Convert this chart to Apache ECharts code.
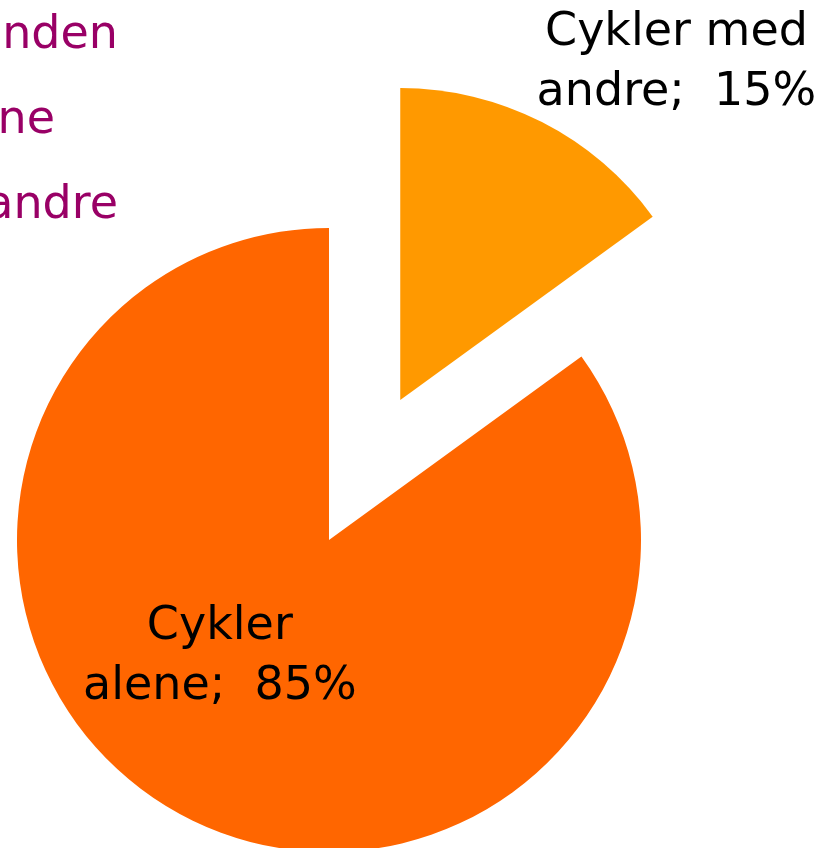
<!DOCTYPE html>
<html>
<head>
<meta charset="utf-8">
<script src="https://cdn.jsdelivr.net/npm/echarts@6/dist/echarts.min.js"></script>
<style>
  html, body { margin: 0; padding: 0; background: #fff; }
  #chart { width: 828px; height: 848px; }
</style>
</head>
<body>
<div id="chart"></div>
<script>
// data
var categories = ['Cykler med andre', 'Cykler alene', 'Cykler med en anden'];
var values = [15, 85, 0];
var colors = ['#FF9900', '#FF6600', '#990066'];
var legendOrder = ['Cykler med en anden', 'Cykler alene', 'Cykler med andre'];
var legendTops = [13, 98, 183];
var legendRights = [710, 773, 710];
// label nudges so text sits where the original put it
var labelOffsets = [[204, -195], [-37, -25], [0, 0]];

var myChart = echarts.init(document.getElementById('chart'));
var font = 'DejaVu Sans, Verdana, sans-serif';

var data = [];
for (let i = 0; i < categories.length; i++) {
    data.push({
        name: categories[i],
        value: values[i],
        selected: i == 0,
        itemStyle: { color: colors[i] },
        label: { show: values[i] > 0, offset: labelOffsets[i] },
        select: { label: { show: values[i] > 0, offset: labelOffsets[i] } }
    });
}

var legends = [];
for (let i = 0; i < legendOrder.length; i++) {
    legends.push({
        data: [legendOrder[i]],
        right: legendRights[i],
        top: legendTops[i],
        padding: 0,
        itemWidth: 20,
        itemHeight: 20,
        selectedMode: false,
        textStyle: { color: '#990066', fontSize: 46, fontFamily: font }
    });
}

var option = {
    backgroundColor: '#fff',
    animation: false,
    legend: legends,
    series: [{
        type: 'pie',
        center: [329, 540],
        radius: 312,
        startAngle: 90,
        clockwise: true,
        selectedMode: 'single',
        selectedOffset: 157,
        avoidLabelOverlap: false,
        label: {
            position: 'inside',
            color: '#000',
            fontSize: 46,
            lineHeight: 60,
            fontFamily: font,
            formatter: function (p) {
                var k = p.name.lastIndexOf(' ');
                return p.name.slice(0, k) + '\n' + p.name.slice(k + 1) + ';  ' + p.value + '%';
            }
        },
        labelLine: { show: false },
        emphasis: { disabled: true },
        data: data
    }]
};

myChart.setOption(option, true);
</script>
</body>
</html>
